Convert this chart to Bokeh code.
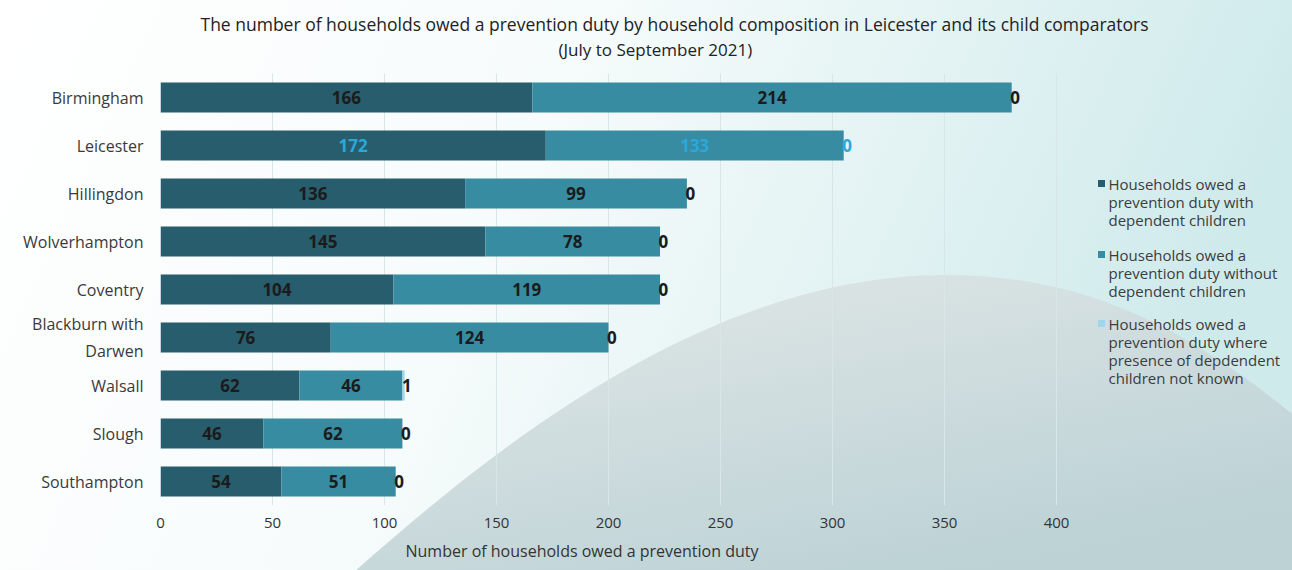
import urllib.parse
from bokeh.plotting import figure
from bokeh.models import ColumnDataSource, FixedTicker, Title, Range1d
from bokeh.core.properties import value
from bokeh.embed import file_html
from bokeh.resources import INLINE

# ---------------- data ----------------
areas = ["Birmingham", "Leicester", "Hillingdon", "Wolverhampton", "Coventry",
         "Blackburn with\nDarwen", "Walsall", "Slough", "Southampton"]
with_children = [166, 172, 136, 145, 104, 76, 62, 46, 54]
without_children = [214, 133, 99, 78, 119, 124, 46, 62, 51]
not_known = [0, 0, 0, 0, 0, 0, 1, 0, 0]
x_ticks = [0, 50, 100, 150, 200, 250, 300, 350, 400]
series_names = [
    ["Households owed a", "prevention duty with", "dependent children"],
    ["Households owed a", "prevention duty without", "dependent children"],
    ["Households owed a", "prevention duty where", "presence of depdendent", "children not known"],
]
highlight = "Leicester"
title_1 = "The number of households owed a prevention duty by household composition in Leicester and its child comparators"
title_2 = "(July to September 2021)"
x_title = "Number of households owed a prevention duty"

FONT = "Open Sans"
colors = ["#275d6c", "#388ca2", "#9fd6ea"]

idx = list(range(len(areas)))
src = ColumnDataSource(dict(idx=idx, w=with_children, wo=without_children, nk=not_known))

W, H = 1292, 570
FL, FT, FB = 160, 73, 505   # frame left / top / bottom (pixels)
p = figure(width=W, height=H, y_range=Range1d(len(areas) - 0.5, -0.5),
           x_range=Range1d(0, (W - FL) / 2.24), output_backend="svg", toolbar_location=None,
           min_border_left=FL, min_border_right=0, min_border_top=FT, min_border_bottom=H - FB)
# pixel ranges for the legend block
p.extra_x_ranges = {"px": Range1d(FL, W)}
p.extra_y_ranges = {"py": Range1d(FB, FT)}

# background (decorative) via CSS
svg_bg = (
    f"<svg xmlns='http://www.w3.org/2000/svg' width='{W}' height='{H}'>"
    "<defs>"
    "<linearGradient id='a' x1='0' y1='0' x2='1' y2='0.2'>"
    "<stop offset='0' stop-color='#ffffff'/><stop offset='0.45' stop-color='#f6fbfb'/>"
    "<stop offset='1' stop-color='#cfeaeb'/></linearGradient>"
    "<linearGradient id='b' x1='0' y1='0' x2='0.6' y2='1'>"
    "<stop offset='0' stop-color='#e3e8e8'/><stop offset='1' stop-color='#bcd2d5'/></linearGradient>"
    "</defs>"
    f"<rect width='{W}' height='{H}' fill='url(#a)'/>"
    "<path d='M 345 580 C 480 460, 700 275, 945 275 C 1100 275, 1200 340, 1300 420 L 1300 580 Z' fill='url(#b)'/>"
    "</svg>"
)
p.styles = {"background-image": "url(\"data:image/svg+xml;utf8," + urllib.parse.quote(svg_bg) + "\")",
            "background-repeat": "no-repeat"}
p.background_fill_color = None
p.border_fill_color = None
p.outline_line_color = None

p.hbar_stack(["w", "wo", "nk"], y="idx", height=0.62, color=colors, source=src, line_color=None)

# value labels
lx, ly, lt, lc = [], [], [], []
for i, a, v1, v2, v3 in zip(idx, areas, with_children, without_children, not_known):
    c = "#2aa8dc" if a == highlight else "#1b1b1b"
    for x, t in ((v1 / 2, v1), (v1 + v2 / 2, v2), (v1 + v2 + v3 / 2 + 1.5, v3)):
        lx.append(x); ly.append(i); lt.append(str(t)); lc.append(c)
p.text(x=lx, y=ly, text=lt, text_color=lc, text_align="center", text_baseline="middle",
       text_font=value(FONT), text_font_style="bold", text_font_size="17px")

# legend block (pixel ranges)
mx, my, tx, ty, tt = [], [], [], [], []
top = [183, 254, 323]
for i, lines in enumerate(series_names):
    mx.append(1101); my.append(top[i])
    for j, line in enumerate(lines):
        tx.append(1108); ty.append(top[i] + 18.3 * j); tt.append(line)
p.scatter(x=mx, y=my, marker="square", size=7, color=colors, line_color=None,
          x_range_name="px", y_range_name="py")
p.text(x=tx, y=ty, text=tt, text_color="#3c3c3c", text_align="left", text_baseline="middle",
       text_font=value(FONT), text_font_size="15px", x_range_name="px", y_range_name="py")

# axes
p.xaxis.ticker = FixedTicker(ticks=x_ticks)
p.xaxis.axis_line_color = None
p.xaxis.major_tick_line_color = None
p.xaxis.minor_tick_line_color = None
p.xaxis.major_label_text_font = FONT
p.xaxis.major_label_text_font_size = "15px"
p.xaxis.major_label_text_color = "#333333"
p.xaxis.major_label_standoff = 6

p.yaxis.ticker = FixedTicker(ticks=idx)
p.yaxis.major_label_overrides = {i: a for i, a in zip(idx, areas)}
p.yaxis.axis_line_color = None
p.yaxis.major_tick_line_color = None
p.yaxis.minor_tick_line_color = None
p.yaxis.major_label_text_font = FONT
p.yaxis.major_label_text_font_size = "16px"
p.yaxis.major_label_text_color = "#3a3a3a"
p.yaxis.major_label_standoff = 11

p.xgrid.grid_line_color = "#d9e6e8"
p.xgrid.bounds = (0, 400)
p.ygrid.grid_line_color = None

# titles
p.add_layout(Title(text=x_title, align="left", offset=245, text_font=FONT,
                   text_font_size="16px", text_font_style="normal", text_color="#333333",
                   standoff=14), "below")
p.add_layout(Title(text=title_2, align="left", offset=398, text_font=FONT,
                   text_font_size="17px", text_font_style="normal", text_color="#222222",
                   standoff=25), "above")
p.add_layout(Title(text=title_1, align="left", offset=40, text_font=FONT,
                   text_font_size="17.5px", text_font_style="normal", text_color="#222222",
                   standoff=-24), "above")

open("out.html", "w").write(file_html(p, INLINE))
